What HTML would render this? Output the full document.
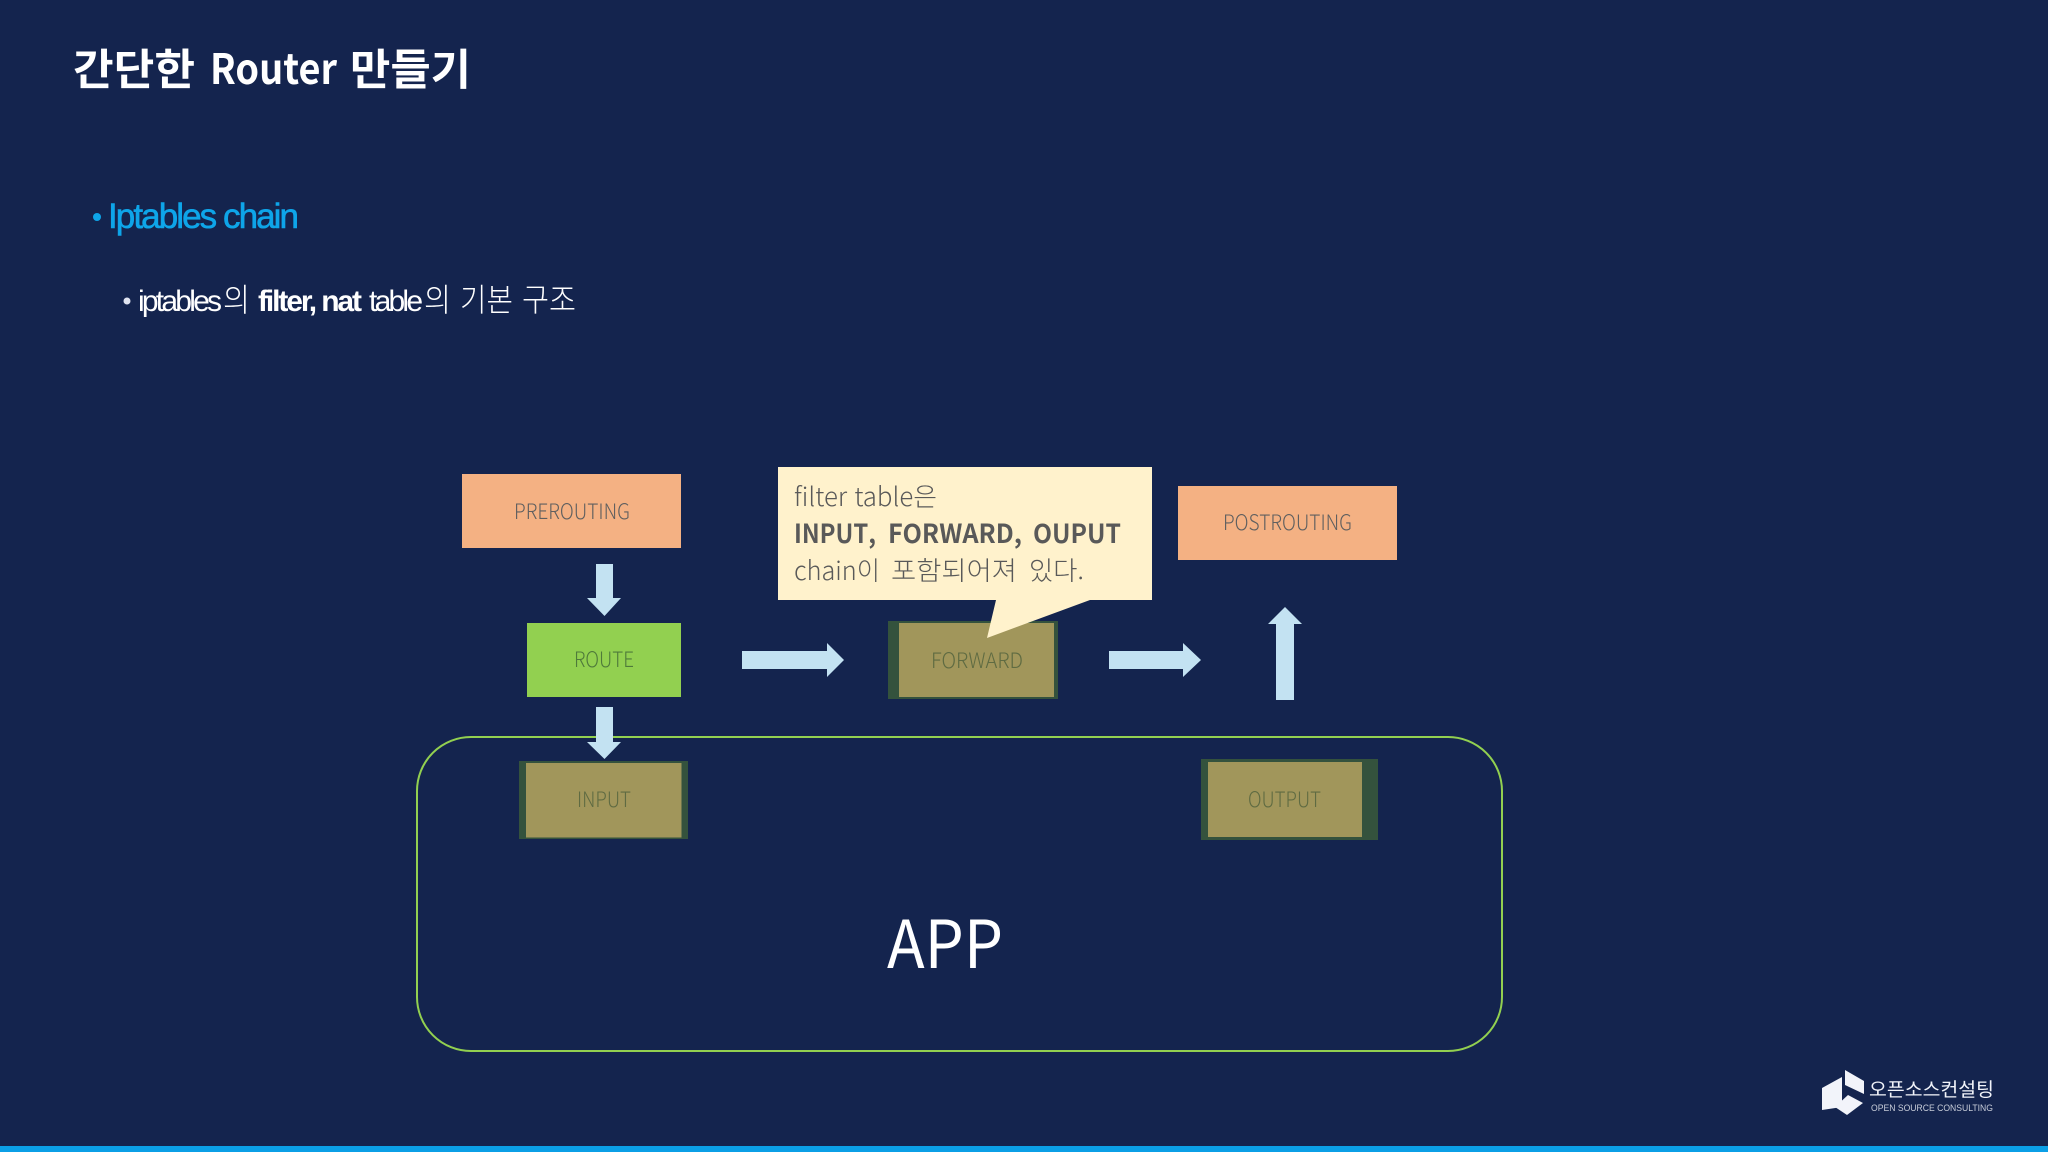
<!DOCTYPE html>
<html lang="ko"><head><meta charset="utf-8"><title>간단한 Router 만들기</title>
<style>
html,body{margin:0;padding:0;background:#14244e;width:2048px;height:1152px;overflow:hidden}
svg{display:block}
text{font-family:"Noto Sans CJK KR",sans-serif}
text.l{font-family:"Liberation Sans","Noto Sans CJK KR",sans-serif}
</style></head><body>
<svg width="2048" height="1152" viewBox="0 0 2048 1152" xmlns="http://www.w3.org/2000/svg">
<rect width="2048" height="1152" fill="#14244e"/>
<rect y="1146" width="2048" height="6" fill="#0b9fe6"/>

<g fill="#fff" font-weight="700">
<text x="73" y="85" font-size="43" textLength="122" lengthAdjust="spacingAndGlyphs">간단한</text>
<text x="210" y="84" font-size="42" textLength="127" lengthAdjust="spacingAndGlyphs">Router</text>
<text x="350" y="85" font-size="43" textLength="121" lengthAdjust="spacingAndGlyphs">만들기</text>
</g>

<circle cx="97" cy="217" r="4" fill="#0ea5e9"/>
<text class="l" x="108" y="228" font-size="35" fill="#0ea5e9" stroke="#0ea5e9" stroke-width="0.6" textLength="191" lengthAdjust="spacing">Iptables chain</text>

<circle cx="127" cy="301" r="3.5" fill="#dfe3f0"/>
<g fill="#fff">
<text class="l" x="138" y="311" font-size="30" textLength="84" lengthAdjust="spacing">iptables</text>
<text x="223" y="311" font-size="32" font-weight="300" textLength="27" lengthAdjust="spacingAndGlyphs">의</text>
<text class="l" x="258" y="311" font-size="30" font-weight="700" textLength="104" lengthAdjust="spacing">filter, nat</text>
<text class="l" x="369" y="311" font-size="30" textLength="54" lengthAdjust="spacing">table</text>
<text x="424" y="311" font-size="32" font-weight="300" textLength="27" lengthAdjust="spacingAndGlyphs">의</text>
<text x="460" y="311" font-size="32" font-weight="300" textLength="53" lengthAdjust="spacingAndGlyphs">기본</text>
<text x="522" y="311" font-size="32" font-weight="300" textLength="54" lengthAdjust="spacingAndGlyphs">구조</text>
</g>

<rect x="417" y="737" width="1085" height="314" rx="54" ry="54" fill="none" stroke="#92d050" stroke-width="2"/>

<rect x="462" y="474" width="219" height="74" fill="#f4b183"/>
<text x="514" y="519" font-size="21" font-weight="300" fill="#5f5f5f" textLength="116" lengthAdjust="spacingAndGlyphs">PREROUTING</text>
<rect x="1178" y="486" width="219" height="74" fill="#f4b183"/>
<text x="1223" y="530" font-size="21" font-weight="300" fill="#5f5f5f" textLength="129" lengthAdjust="spacingAndGlyphs">POSTROUTING</text>
<rect x="527" y="623" width="154" height="74" fill="#92d050"/>
<text x="574" y="667" font-size="21" font-weight="300" fill="#4f7a3a" textLength="60" lengthAdjust="spacingAndGlyphs">ROUTE</text>

<rect x="888" y="621" width="170" height="78" fill="#34523d"/>
<rect x="899" y="623" width="155" height="74" fill="#a1965b"/>
<text x="931" y="668" font-size="21" font-weight="300" fill="#5f6b42" textLength="92" lengthAdjust="spacingAndGlyphs">FORWARD</text>

<rect x="519" y="761" width="169" height="78" fill="#34523d"/>
<rect x="526" y="763" width="155.500" height="74.500" fill="#a1965b"/>
<text x="577" y="807" font-size="21" font-weight="300" fill="#5f6b42" textLength="54" lengthAdjust="spacingAndGlyphs">INPUT</text>

<rect x="1201" y="759" width="177" height="81" fill="#34523d"/>
<rect x="1208" y="762" width="154" height="75" fill="#a1965b"/>
<text x="1248" y="807" font-size="21" font-weight="300" fill="#5f6b42" textLength="73" lengthAdjust="spacingAndGlyphs">OUTPUT</text>

<polygon points="596,564 613,564 613,598 621,598 604.500,616 587,598 596,598" fill="#c3e2f2"/>
<polygon points="596,707 613,707 613,742 621,742 604.500,759 587,742 596,742" fill="#c3e2f2"/>
<polygon points="742,651 827,651 827,643 844,660 827,677 827,669 742,669" fill="#c3e2f2"/>
<polygon points="1109,651 1183,651 1183,643 1201,660 1183,677 1183,669 1109,669" fill="#c3e2f2"/>
<polygon points="1276,700 1276,624 1268,624 1285,607 1302,624 1294,624 1294,700" fill="#c3e2f2"/>

<polygon points="778,467 1152,467 1152,600 1090,600 987,638 996,600 778,600" fill="#fff2cc"/>
<g fill="#595959">
<text x="794" y="506" font-size="26" font-weight="300" textLength="143" lengthAdjust="spacingAndGlyphs">filter table은</text>
<text x="794" y="543" font-size="26" font-weight="700" textLength="82" lengthAdjust="spacingAndGlyphs">INPUT,</text>
<text x="888" y="543" font-size="26" font-weight="700" textLength="134" lengthAdjust="spacingAndGlyphs">FORWARD,</text>
<text x="1033" y="543" font-size="26" font-weight="700" textLength="88" lengthAdjust="spacingAndGlyphs">OUPUT</text>
<text x="794" y="580" font-size="26" font-weight="300" textLength="86" lengthAdjust="spacingAndGlyphs">chain이</text>
<text x="891" y="580" font-size="26" font-weight="300" textLength="126" lengthAdjust="spacingAndGlyphs">포함되어져</text>
<text x="1029" y="580" font-size="26" font-weight="300" textLength="55" lengthAdjust="spacingAndGlyphs">있다.</text>
</g>

<text x="887" y="968" font-size="66" font-weight="400" fill="#fff" textLength="116" lengthAdjust="spacingAndGlyphs">APP</text>

<polygon points="1822,1088 1842,1077 1842,1107 1822,1110" fill="#f2f4fa"/>
<polygon points="1845,1070 1864,1081 1864,1094 1845,1085" fill="#f2f4fa"/>
<polygon points="1835,1107 1848,1095 1863,1103 1847,1115" fill="#f2f4fa"/>
<text x="1869" y="1096" font-size="19" font-weight="400" fill="#f2f4fa" textLength="125" lengthAdjust="spacingAndGlyphs">오픈소스컨설팅</text>
<text class="l" x="1871" y="1111" font-size="9" fill="#c8cdd9" textLength="122" lengthAdjust="spacingAndGlyphs">OPEN SOURCE CONSULTING</text>
</svg>
</body></html>
